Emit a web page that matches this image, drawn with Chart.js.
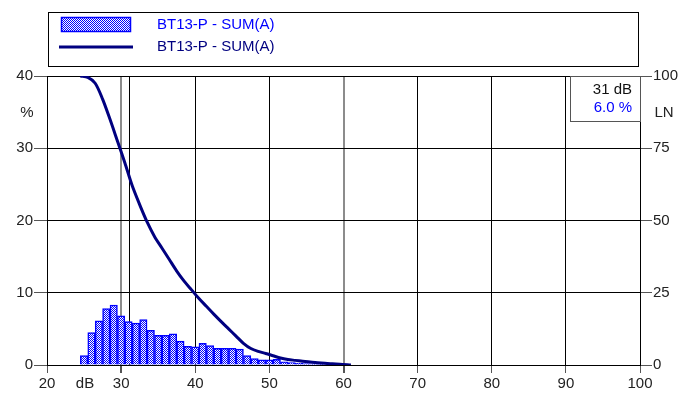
<!DOCTYPE html>
<html>
<head>
<meta charset="utf-8">
<script src="https://cdn.jsdelivr.net/npm/chart.js@4/dist/chart.umd.min.js"></script>
<style>
  html, body { margin: 0; padding: 0; background: #fff; }
</style>
</head>
<body>
<canvas id="grafico" width="696" height="396"></canvas>
<script>
// histograma: nivel (dB) e % do tempo
const niveis = [25, 26, 27, 28, 29, 30, 31, 32, 33, 34, 35, 36, 37, 38, 39, 40, 41, 42,
  43, 44, 45, 46, 47, 48, 49, 50, 51, 52, 53, 54, 55, 56, 57, 58, 59, 60];
const percentuais = [1.3, 4.5, 6.1, 7.8, 8.3, 6.8, 6.0, 5.8, 6.3, 4.8, 4.1, 4.1, 4.3, 3.3, 2.6, 2.5, 3.0, 2.7,
  2.3, 2.3, 2.3, 2.2, 1.3, 0.9, 0.7, 0.7, 0.8, 0.45, 0.35, 0.25, 0.2, 0.15, 0.1, 0.1, 0.05, 0.05];

// curva LN (acumulada)
const niveisLN = [24.5, 25.5, 26.5, 27.5, 28.5, 29.5, 30.5, 31.5, 32.5, 33.5, 34.5, 35.5, 36.5, 37.5,
  38.5, 39.5, 40.5, 41.5, 42.5, 43.5, 44.5, 45.5, 46.5, 47.5, 48.5, 49.5, 50.5, 51.5, 52.5, 53.5,
  54.5, 55.5, 56.5, 57.5, 58.5, 59.5, 61];
const valoresLN = [100, 99.5, 97.5, 92, 85, 77.5, 70, 62, 55.5, 49.5, 44.5, 40.5, 36.5, 32.5,
  29, 26, 23, 20.3, 17.6, 15, 12.5, 10, 7.5, 5.7, 4.7, 4, 3.2, 2.4, 1.9, 1.6,
  1.3, 1.0, 0.8, 0.6, 0.4, 0.3, 0];

const ticksX = [20, 30, 40, 50, 60, 70, 80, 90, 100];
const ticksPct = [0, 10, 20, 30, 40];
const ticksLN = [0, 25, 50, 75, 100];
const linhasCinza = [30, 60];

const serieNome = 'BT13-P - SUM(A)';
const cursorDb = 31;
const cursorPct = 6.0;

const AZUL = '#0000ff';
const MARINHO = '#000080';
const FONTE = '"Liberation Sans", Arial, sans-serif';

// padrao xadrez azul/branco
function padraoXadrez(ctx) {
  const c = document.createElement('canvas');
  c.width = 2; c.height = 2;
  const p = c.getContext('2d');
  p.fillStyle = '#fff';
  p.fillRect(0, 0, 2, 2);
  p.fillStyle = AZUL;
  p.fillRect(0, 0, 1, 1);
  p.fillRect(1, 1, 1, 1);
  return ctx.createPattern(c, 'repeat');
}

const canvas = document.getElementById('grafico');
const ctx2d = canvas.getContext('2d');
const xadrez = padraoXadrez(ctx2d);

const moldura = {
  id: 'moldura',
  beforeDatasetsDraw(chart) {
    const { ctx, chartArea, scales } = chart;
    const x = Math.round(scales.x.getPixelForValue(cursorDb)) + 0.5;
    ctx.save();
    ctx.strokeStyle = '#000';
    ctx.lineWidth = 1;
    ctx.beginPath();
    ctx.moveTo(x, chartArea.top);
    ctx.lineTo(x, chartArea.bottom);
    ctx.stroke();
    ctx.restore();
  },
  afterDraw(chart) {
    const { ctx, chartArea } = chart;
    ctx.save();

    // legenda
    ctx.strokeStyle = '#000';
    ctx.lineWidth = 1;
    ctx.strokeRect(48.5, 12.5, 590, 54);
    ctx.fillStyle = xadrez;
    ctx.fillRect(61, 17, 70, 15);
    ctx.strokeStyle = AZUL;
    ctx.lineWidth = 1.5;
    ctx.strokeRect(61.5, 17.5, 69, 14);
    ctx.strokeStyle = MARINHO;
    ctx.lineWidth = 3;
    ctx.beginPath();
    ctx.moveTo(59, 47);
    ctx.lineTo(133, 47);
    ctx.stroke();

    ctx.font = '15px ' + FONTE;
    ctx.textBaseline = 'middle';
    ctx.textAlign = 'left';
    ctx.fillStyle = AZUL;
    ctx.fillText(serieNome, 157, 25);
    ctx.fillStyle = MARINHO;
    ctx.fillText(serieNome, 157, 47);

    // rotulos extras
    ctx.fillStyle = '#222';
    ctx.textAlign = 'center';
    ctx.fillText('%', 27, 113);
    ctx.fillText('LN', 664, 113);
    ctx.fillText('dB', 85, 384);

    // caixa do cursor
    const bx = 570, by = chartArea.top;
    ctx.fillStyle = '#fff';
    ctx.fillRect(bx, by, chartArea.right - bx, 45);
    ctx.strokeStyle = '#555';
    ctx.lineWidth = 1;
    ctx.strokeRect(bx + 0.5, by + 0.5, chartArea.right - bx, 45);
    ctx.textAlign = 'right';
    ctx.fillStyle = '#111';
    ctx.fillText(cursorDb + ' dB', 632, by + 14);
    ctx.fillStyle = AZUL;
    ctx.fillText(cursorPct.toFixed(1) + ' %', 632, by + 32);

    ctx.restore();
  }
};

new Chart(canvas, {
  type: 'bar',
  data: {
    datasets: [
      {
        type: 'line',
        label: serieNome,
        data: niveisLN.map((v, i) => ({ x: v, y: valoresLN[i] })),
        yAxisID: 'y1',
        borderColor: MARINHO,
        borderWidth: 3,
        pointRadius: 0,
        tension: 0.3,
        fill: false,
        order: 0
      },
      {
        label: serieNome,
        data: niveis.map((v, i) => ({ x: v, y: percentuais[i] })),
        yAxisID: 'y',
        backgroundColor: xadrez,
        borderColor: AZUL,
        borderWidth: 1.5,
        borderSkipped: 'bottom',
        barPercentage: 1,
        categoryPercentage: 1,
        grouped: false,
        order: 1
      }
    ]
  },
  options: {
    responsive: false,
    animation: false,
    devicePixelRatio: 1,
    layout: { padding: { top: 76, left: 0, right: 0, bottom: 0 } },
    plugins: {
      legend: { display: false },
      tooltip: { enabled: false }
    },
    scales: {
      x: {
        type: 'linear',
        min: 20,
        max: 100,
        offset: false,
        afterFit: s => { s.height = 31; },
        afterBuildTicks: s => { s.ticks = ticksX.map(v => ({ value: v })); },
        grid: {
          offset: false,
          color: c => linhasCinza.includes(c.tick && c.tick.value) ? '#8c8c8c' : '#000',
          lineWidth: c => linhasCinza.includes(c.tick && c.tick.value) ? 2 : 1,
          tickColor: '#555',
          tickLength: 8
        },
        border: { color: '#000' },
        ticks: { color: '#222', font: { size: 15, family: FONTE }, padding: 2, maxRotation: 0 }
      },
      y: {
        position: 'left',
        min: 0,
        max: 40,
        afterFit: s => { s.width = 47; },
        afterBuildTicks: s => { s.ticks = ticksPct.map(v => ({ value: v })); },
        grid: { color: '#000', tickColor: '#555', tickLength: 13 },
        border: { color: '#000' },
        ticks: { color: '#222', font: { size: 15, family: FONTE }, padding: 1 }
      },
      y1: {
        position: 'right',
        min: 0,
        max: 100,
        afterFit: s => { s.width = 56; },
        afterBuildTicks: s => { s.ticks = ticksLN.map(v => ({ value: v })); },
        grid: { drawOnChartArea: false, tickColor: '#555', tickLength: 12 },
        border: { color: '#000' },
        ticks: { color: '#222', font: { size: 15, family: FONTE }, padding: 1 }
      }
    }
  },
  plugins: [moldura]
});
</script>
</body>
</html>
